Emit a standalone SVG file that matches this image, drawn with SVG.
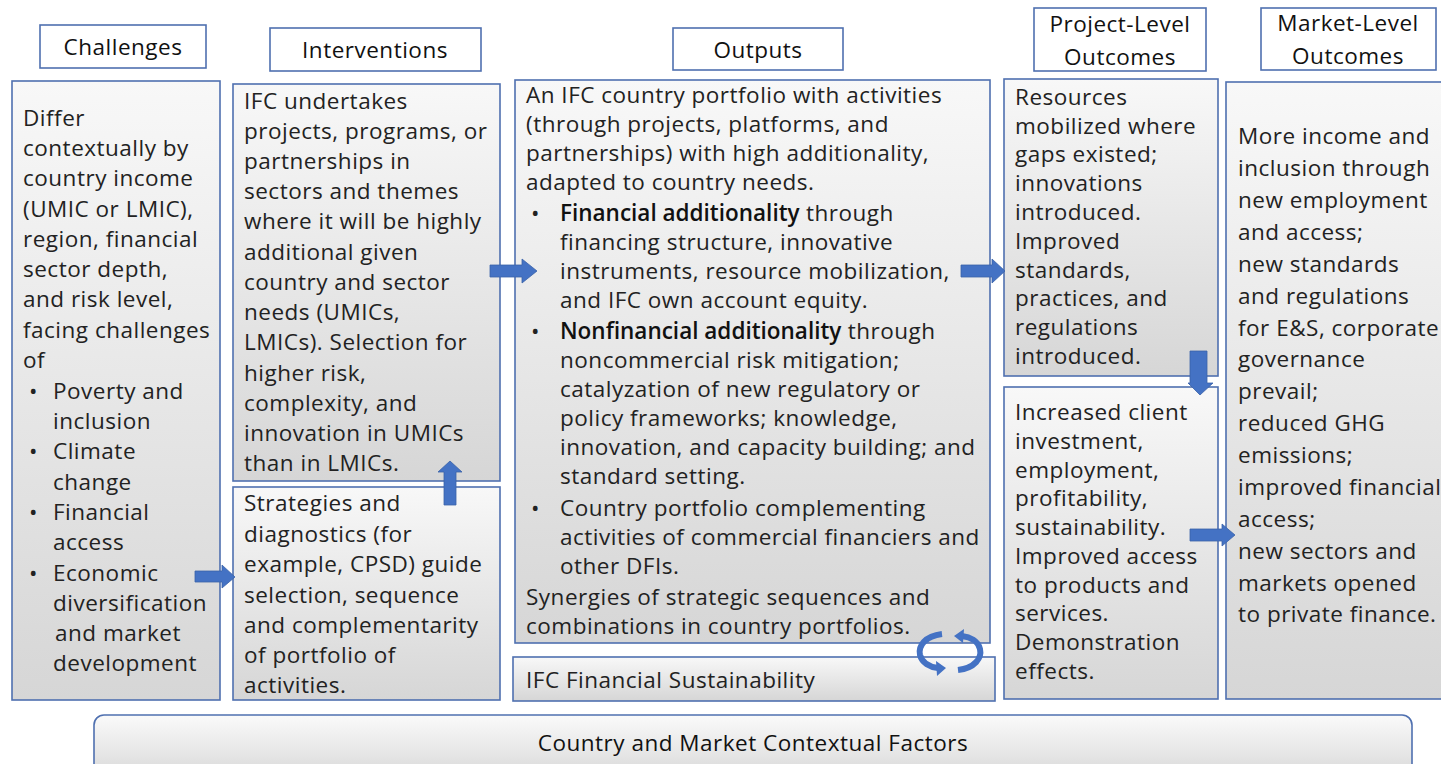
<svg xmlns="http://www.w3.org/2000/svg" width="1441" height="764" viewBox="0 0 1441 764">
<defs>
<linearGradient id="g" x1="0" y1="0" x2="0" y2="1">
<stop offset="0" stop-color="#f8f8f8"/>
<stop offset="1" stop-color="#d6d6d6"/>
</linearGradient>
<linearGradient id="g2" x1="0" y1="0" x2="0" y2="1">
<stop offset="0" stop-color="#fafafa"/>
<stop offset="0.6" stop-color="#e4e4e4"/>
<stop offset="1" stop-color="#d2d2d2"/>
</linearGradient>
</defs>
<style>
.box{fill:url(#g);stroke:#4f70b0;stroke-width:1.6}
.hdr{fill:#ffffff;stroke:#4f70b0;stroke-width:1.6}
.t{font-family:"Open Sans","Noto Sans",sans-serif;font-size:22.5px;letter-spacing:0.5px;fill:#222}
.h{font-family:"Open Sans","Noto Sans",sans-serif;font-size:22.5px;letter-spacing:0.5px;fill:#111;text-anchor:middle}
.b{font-weight:600;fill:#111;letter-spacing:0px}
.arr{fill:#4472c4;stroke:#3a62a8;stroke-width:0.8}
.cyc{fill:none;stroke:#4472c4;stroke-width:6}
</style>
<rect width="1441" height="764" fill="#ffffff"/>

<g id="header-challenges"><rect class="hdr" x="40" y="25" width="166" height="43"/><text class="h" x="123" y="55">Challenges</text></g>
<g id="header-interventions"><rect class="hdr" x="270" y="28" width="211" height="43"/><text class="h" x="375" y="58">Interventions</text></g>
<g id="header-outputs"><rect class="hdr" x="673" y="28" width="170" height="42"/><text class="h" x="758" y="58">Outputs</text></g>
<g id="header-project"><rect class="hdr" x="1034" y="8" width="172" height="63"/><text class="h" x="1120" y="32">Project-Level</text><text class="h" x="1120" y="65">Outcomes</text></g>
<g id="header-market"><rect class="hdr" x="1261" y="8" width="175" height="62"/><text class="h" x="1348" y="31">Market-Level</text><text class="h" x="1348" y="64">Outcomes</text></g>

<g id="challenges">
<rect class="box" x="12" y="81" width="208" height="619"/>
<text class="t">
<tspan x="23" y="126">Differ</tspan>
<tspan x="23" y="156">contextually by</tspan>
<tspan x="23" y="186">country income</tspan>
<tspan x="23" y="217">(UMIC or LMIC),</tspan>
<tspan x="23" y="247">region, financial</tspan>
<tspan x="23" y="277">sector depth,</tspan>
<tspan x="23" y="307">and risk level,</tspan>
<tspan x="23" y="338">facing challenges</tspan>
<tspan x="23" y="368">of</tspan>
<tspan x="29" y="399">•</tspan><tspan x="53" y="399">Poverty and</tspan>
<tspan x="53" y="429">inclusion</tspan>
<tspan x="29" y="459">•</tspan><tspan x="53" y="459">Climate</tspan>
<tspan x="53" y="490">change</tspan>
<tspan x="29" y="520">•</tspan><tspan x="53" y="520">Financial</tspan>
<tspan x="53" y="550">access</tspan>
<tspan x="29" y="581">•</tspan><tspan x="53" y="581">Economic</tspan>
<tspan x="53" y="611">diversification</tspan>
<tspan x="55" y="641">and market</tspan>
<tspan x="53" y="671">development</tspan>
</text>
</g>

<g id="interventions-main">
<rect class="box" x="233" y="84" width="267" height="397"/>
<text class="t">
<tspan x="244" y="109">IFC undertakes</tspan>
<tspan x="244" y="139">projects, programs, or</tspan>
<tspan x="244" y="169">partnerships in</tspan>
<tspan x="244" y="199">sectors and themes</tspan>
<tspan x="244" y="229">where it will be highly</tspan>
<tspan x="244" y="260">additional given</tspan>
<tspan x="244" y="290">country and sector</tspan>
<tspan x="244" y="320">needs (UMICs,</tspan>
<tspan x="244" y="350">LMICs). Selection for</tspan>
<tspan x="244" y="381">higher risk,</tspan>
<tspan x="244" y="411">complexity, and</tspan>
<tspan x="244" y="441">innovation in UMICs</tspan>
<tspan x="244" y="471">than in LMICs.</tspan>
</text>
</g>

<g id="interventions-strategies">
<rect class="box" x="233" y="487" width="267" height="213"/>
<text class="t">
<tspan x="244" y="511">Strategies and</tspan>
<tspan x="244" y="542">diagnostics (for</tspan>
<tspan x="244" y="572">example, CPSD) guide</tspan>
<tspan x="244" y="603">selection, sequence</tspan>
<tspan x="244" y="633">and complementarity</tspan>
<tspan x="244" y="663">of portfolio of</tspan>
<tspan x="244" y="693">activities.</tspan>
</text>
</g>

<g id="outputs">
<rect class="box" x="515" y="80" width="475" height="563"/>
<text class="t">
<tspan x="526" y="103">An IFC country portfolio with activities</tspan>
<tspan x="526" y="132">(through projects, platforms, and</tspan>
<tspan x="526" y="161">partnerships) with high additionality,</tspan>
<tspan x="526" y="190">adapted to country needs.</tspan>
<tspan x="531" y="221">•</tspan><tspan x="560" y="221" class="b">Financial additionality</tspan><tspan> through</tspan>
<tspan x="560" y="250">financing structure, innovative</tspan>
<tspan x="560" y="279">instruments, resource mobilization,</tspan>
<tspan x="560" y="308">and IFC own account equity.</tspan>
<tspan x="531" y="339">•</tspan><tspan x="560" y="339" class="b">Nonfinancial additionality</tspan><tspan> through</tspan>
<tspan x="560" y="368">noncommercial risk mitigation;</tspan>
<tspan x="560" y="397">catalyzation of new regulatory or</tspan>
<tspan x="560" y="426">policy frameworks; knowledge,</tspan>
<tspan x="560" y="455">innovation, and capacity building; and</tspan>
<tspan x="560" y="484">standard setting.</tspan>
<tspan x="531" y="516">•</tspan><tspan x="560" y="516">Country portfolio complementing</tspan>
<tspan x="560" y="545">activities of commercial financiers and</tspan>
<tspan x="560" y="574">other DFIs.</tspan>
<tspan x="526" y="605">Synergies of strategic sequences and</tspan>
<tspan x="526" y="634">combinations in country portfolios.</tspan>
</text>
</g>

<g id="financial-sustainability">
<rect class="box" x="513" y="657" width="482" height="44"/>
<text class="t" x="526" y="688">IFC Financial Sustainability</text>
</g>

<g id="project-outcomes-1">
<rect class="box" x="1004" y="79" width="214" height="297"/>
<text class="t">
<tspan x="1015" y="105">Resources</tspan>
<tspan x="1015" y="134">mobilized where</tspan>
<tspan x="1015" y="162">gaps existed;</tspan>
<tspan x="1015" y="191">innovations</tspan>
<tspan x="1015" y="220">introduced.</tspan>
<tspan x="1015" y="249">Improved</tspan>
<tspan x="1015" y="278">standards,</tspan>
<tspan x="1015" y="306">practices, and</tspan>
<tspan x="1015" y="335">regulations</tspan>
<tspan x="1015" y="364">introduced.</tspan>
</text>
</g>

<g id="project-outcomes-2">
<rect class="box" x="1004" y="387" width="214" height="312"/>
<text class="t">
<tspan x="1015" y="420">Increased client</tspan>
<tspan x="1015" y="449">investment,</tspan>
<tspan x="1015" y="478">employment,</tspan>
<tspan x="1015" y="506">profitability,</tspan>
<tspan x="1015" y="535">sustainability.</tspan>
<tspan x="1015" y="564">Improved access</tspan>
<tspan x="1015" y="593">to products and</tspan>
<tspan x="1015" y="621">services.</tspan>
<tspan x="1015" y="650">Demonstration</tspan>
<tspan x="1015" y="679">effects.</tspan>
</text>
</g>

<g id="market-outcomes">
<rect class="box" x="1226" y="82" width="230" height="617"/>
<text class="t">
<tspan x="1238" y="144">More income and</tspan>
<tspan x="1238" y="176">inclusion through</tspan>
<tspan x="1238" y="208">new employment</tspan>
<tspan x="1238" y="240">and access;</tspan>
<tspan x="1238" y="272">new standards</tspan>
<tspan x="1238" y="304">and regulations</tspan>
<tspan x="1238" y="336">for E&amp;S, corporate</tspan>
<tspan x="1238" y="367">governance</tspan>
<tspan x="1238" y="399">prevail;</tspan>
<tspan x="1238" y="431">reduced GHG</tspan>
<tspan x="1238" y="463">emissions;</tspan>
<tspan x="1238" y="495">improved financial</tspan>
<tspan x="1238" y="527">access;</tspan>
<tspan x="1238" y="559">new sectors and</tspan>
<tspan x="1238" y="591">markets opened</tspan>
<tspan x="1238" y="622">to private finance.</tspan>
</text>
</g>

<g id="context-factors">
<rect x="94" y="715" width="1318" height="70" rx="10" fill="url(#g2)" stroke="#4f70b0" stroke-width="1.6"/>
<text class="h" x="753" y="751" style="fill:#111">Country and Market Contextual Factors</text>
</g>

<g id="connectors">
<polygon class="arr" points="195,571 222,571 222,565 235,577 222,588 222,582 195,582"/>
<polygon class="arr" points="444,505 444,472 438,472 450,461 462,472 456,472 456,505"/>
<polygon class="arr" points="490,265 522,265 522,259 537,271 522,283 522,277 490,277"/>
<polygon class="arr" points="961,265 992,265 992,259 1005,271 992,283 992,277 961,277"/>
<polygon class="arr" points="1190,351 1207,351 1207,383 1213,383 1200,395 1188,383 1190,383"/>
<polygon class="arr" points="1190,529 1222,529 1222,524 1235,535 1222,546 1222,541 1190,541"/>
<path class="cyc" d="M942,634 C925,636 918,646 920,655 C922,663 930,667 938,668"/>
<polygon points="936,661 946,668 937,676" fill="#4472c4"/>
<path class="cyc" d="M958,670 C975,668 982,658 980,649 C978,641 970,637 962,636"/>
<polygon points="964,629 954,636 963,643" fill="#4472c4"/>
</g>
</svg>
